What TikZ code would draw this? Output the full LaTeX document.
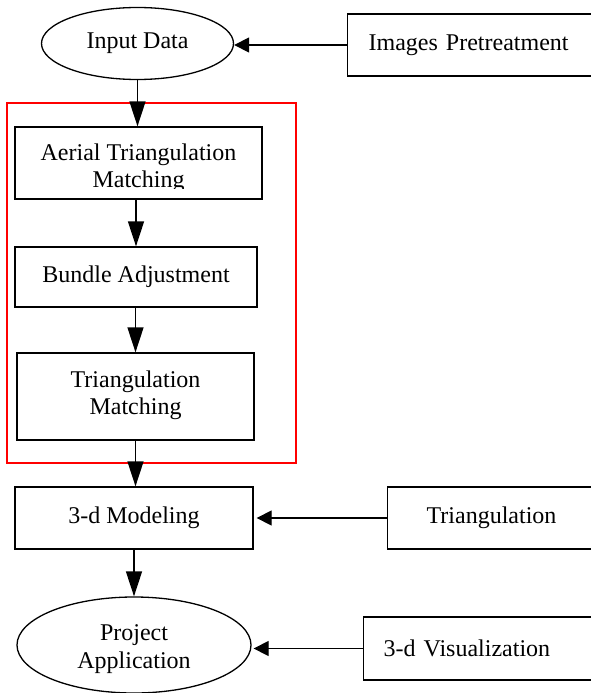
\documentclass[tikz,border=0pt]{standalone}
\usepackage{fontspec}
\setmainfont{Liberation Serif}
\usetikzlibrary{arrows.meta,shapes.geometric}
\begin{document}
\begin{tikzpicture}[x=1pt,y=-1pt,
  box/.style={draw, line width=1.3pt, rectangle, inner sep=0pt, align=center,
    font=\fontsize{24}{27}\selectfont},
  sidebox/.style={box, anchor=west, align=left, text width=240pt, inner ysep=0pt},
  oval/.style={draw, line width=1.3pt, ellipse, inner sep=0pt, align=center,
    font=\fontsize{24}{28}\selectfont},
  txt/.style={inner sep=0pt, align=center, font=\fontsize{24}{27}\selectfont},
  varr/.style={line width=1.3pt, -{Triangle[length=25pt,width=16pt]}},
  harr/.style={line width=1.3pt, -{Triangle[length=15pt,width=15pt]}},
]
\clip (0,0) rectangle (591,693);
\fill[white] (0,0) rectangle (591,693);

% top row
\node[oval, minimum width=192pt, minimum height=72pt] (input) at (137.5,43.5) {Input Data};
\node[sidebox, inner xsep=21pt, minimum height=62pt] (pre) at (347,45) {Images Pretreatment};

% red group frame
\node[draw=red, line width=1.2pt, rectangle, inner sep=0pt,
  minimum width=289pt, minimum height=360pt] (group) at (151.5,283) {};

% aerial triangulation (text cut at the bottom)
\node[box, minimum width=247pt, minimum height=72pt] (aerial) at (138.5,163) {};
\begin{scope}
  \clip (15,127) rectangle (262,188);
  \node[txt] (aerialtext) at (138.5,168) {Aerial Triangulation\\Matching};
\end{scope}

\node[box, minimum width=242pt, minimum height=60pt] (bundle) at (136,277) {Bundle Adjustment};
\node[box, minimum width=237pt, minimum height=87pt] (tm) at (135.5,396.5) {};
\node[txt] (tmtext) at (135.5,395) {Triangulation\\Matching};

% modeling row
\node[box, minimum width=238pt, minimum height=62pt] (model) at (134,518) {3-d Modeling};
\node[sidebox, inner xsep=39pt, text width=200pt, minimum height=62pt] (tri) at (387,518) {Triangulation};

% application row
\node[oval, minimum width=234pt, minimum height=96pt] (project) at (134,645) {};
\node[txt, font=\fontsize{24}{28}\selectfont] (projecttext) at (134,649.5) {Project\\Application};
\node[sidebox, inner xsep=20pt, minimum height=63pt] (vis) at (363,648.5) {3-d Visualization};

% connectors
\draw[harr] (pre.west) -- (input.east |- pre.west);
\draw[varr] (input.south) -- (input.south |- aerial.north);
\draw[varr] (bundle.north |- aerial.south) -- (bundle.north);
\draw[varr] (tm.north |- bundle.south) -- (tm.north);
\draw[varr] (tm.south) -- (tm.south |- model.north);
\draw[varr] (model.south) -- (model.south |- project.north);
\draw[harr, shorten >=3pt] (tri.west) -- (tri.west -| model.east);
\draw[harr, shorten >=2pt] (vis.west) -- (vis.west -| project.east);
\end{tikzpicture}
\end{document}
